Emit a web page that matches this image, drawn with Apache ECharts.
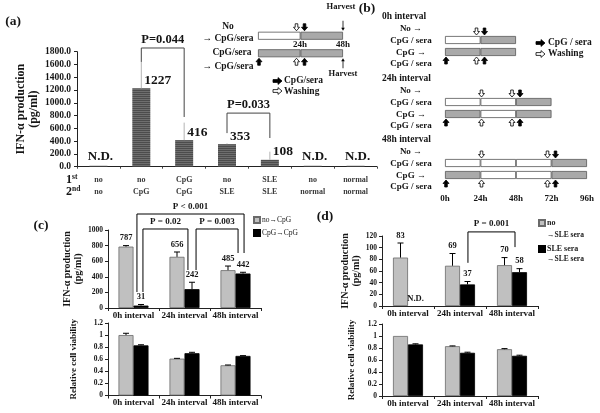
<!DOCTYPE html>
<html>
<head>
<meta charset="utf-8">
<script src="https://cdn.jsdelivr.net/npm/echarts@6/dist/echarts.min.js"></script>
<style>
  html, body { margin: 0; padding: 0; background: #fff; }
  #chart { width: 600px; height: 413px; }
</style>
</head>
<body>
<div id="chart"></div>
<script>
// ===== Datos =====
// (a) dos estímulos sucesivos
const aFirst = ['no', 'no', 'CpG', 'no', 'SLE', 'no', 'normal'];
const aSecond = ['no', 'CpG', 'CpG', 'SLE', 'SLE', 'normal', 'normal'];
const aValues = [15, 1227, 416, 353, 108, 15, 15];
const aND = [true, false, false, false, false, true, true];
const aErrTop = [null, 1640, 690, 365, 235, null, null];
// [catA, catB, top, leg A bottom, leg B bottom, text]
const aBrackets = [[1, 2, 1858, 1640, 778, 'P=0.044'], [3, 4, 839, 526, 449, 'P=0.033']];

// (c) CpG -> CpG
const intervals = ['0h interval', '24h interval', '48h interval'];
const cNoCpG = [787, 656, 485];
const cNoCpGErr = [800, 718, 538];
const cCpGCpG = [31, 242, 442];
const cCpGCpGErr = [45, 330, 458];
const cViabNo = [1.0, 0.61, 0.50];
const cViabNoErr = [1.03, 0.615, 0.505];
const cViabCpG = [0.83, 0.70, 0.655];
const cViabCpGErr = [0.84, 0.715, 0.66];
// [catA, legA (bar widths from centre), catB, legB, top, bottomA, bottomB, text]
const cBrackets = [
  [0, 0.23, 2, 0.57, 1205, 205, 705, 'P < 0.001'],
  [0, 0.63, 1, 0.23, 1013, 205, 487, 'P = 0.02'],
  [1, 0.77, 2, 0.17, 1013, 487, 705, 'P = 0.003'],
];

// (d) SLE sera -> SLE sera
const dNoSle = [83, 69, 70];
const dNoSleErr = [108, 90, 83];
const dSleSle = [null, 37, 58];   // null = N.D.
const dSleSleErr = [null, 42, 64];
const dViabNo = [1.0, 0.83, 0.78];
const dViabNoErr = [1.0, 0.835, 0.79];
const dViabSle = [0.86, 0.72, 0.67];
const dViabSleErr = [0.87, 0.73, 0.68];
const dBrackets = [[1, 0.53, 2, 0.2, 127, 74, 101, 'P = 0.001']];

// esquemas: segmentos de 24 h (w = sin estímulo, g = CpG/sera)
const segHours = 24;
const schemA = [['w', 'g'], ['g', 'g']];
const arrowsA = [[24, 'top', 'wash'], [24, 'top', 'cpg'], [48, 'top', 'harvest'],
  [0, 'bot', 'cpg'], [24, 'bot', 'wash'], [24, 'bot', 'cpg'], [48, 'bot', 'harvest']];
const bTitles = ['0h interval', '24h interval', '48h interval'];
const bRowText = ['No →', 'CpG / sera', 'CpG →', 'CpG / sera'];
const bRows = [
  [['w', 'g'], ['g', 'g']],
  [['w', 'w', 'g'], ['g', 'w', 'g']],
  [['w', 'w', 'w', 'g'], ['g', 'w', 'w', 'g']],
];
const bArrows = [
  [[24, 'top', 'wash'], [24, 'top', 'cpg'], [0, 'bot', 'cpg'], [24, 'bot', 'wash'], [24, 'bot', 'cpg']],
  [[24, 'top', 'wash'], [48, 'top', 'wash'], [48, 'top', 'cpg'], [0, 'bot', 'cpg'], [24, 'bot', 'wash'], [48, 'bot', 'wash'], [48, 'bot', 'cpg']],
  [[24, 'top', 'wash'], [72, 'top', 'wash'], [72, 'top', 'cpg'], [0, 'bot', 'cpg'], [24, 'bot', 'wash'], [72, 'bot', 'wash'], [72, 'bot', 'cpg']],
];

// ===== Estilo =====
const FONT = '"Liberation Serif", "DejaVu Serif", serif';
const INK = '#151515';
const GREY = '#c0c0c0';
const SCHEM_GREY = '#a9a9a9';
const lab = (size, extra) => Object.assign({ fontFamily: FONT, fontWeight: 'bold', fontSize: size, color: INK }, extra || {});
const axisLine = { show: true, lineStyle: { color: '#222', width: 1 } };
const tick = { show: true, length: 3, lineStyle: { color: '#222' } };

const grids = [], xAxes = [], yAxes = [], series = [], graphics = [];

function txt(x, y, text, size, align, extra) {
  graphics.push({ type: 'text', x, y, silent: true,
    style: Object.assign({ text, fontFamily: FONT, fontWeight: 'bold', fontSize: size, fill: INK,
      align: align || 'center', verticalAlign: 'middle' }, extra || {}) });
}
function rightArrow(x, y, filled) {
  const L = 9, hl = 4, sh = 1.4, hh = 3.4;
  graphics.push({ type: 'polygon', silent: true,
    shape: { points: [[x, y - sh], [x + L - hl, y - sh], [x + L - hl, y - hh], [x + L, y], [x + L - hl, y + hh], [x + L - hl, y + sh], [x, y + sh]] },
    style: { fill: filled ? '#000' : '#fff', stroke: '#000', lineWidth: 0.8 } });
}

// rayado horizontal fino de las barras de (a)
const stripe = document.createElement('canvas');
stripe.width = 4; stripe.height = 2;
const sg = stripe.getContext('2d');
sg.fillStyle = '#4c4c4c'; sg.fillRect(0, 0, 4, 2);
sg.fillStyle = '#6e6e6e'; sg.fillRect(0, 1, 4, 1);

// ===== (a) barras =====
const gA = grids.push({ left: 70, top: 51.7, width: 307, height: 115 }) - 1;
const xA = xAxes.push({ type: 'category', gridIndex: gA, data: aFirst.map((f, i) => f + '/' + aSecond[i]),
  axisLine, axisTick: { show: true, length: 2, lineStyle: { color: '#444' } },
  axisLabel: lab(8, { color: '#3a3a3a', lineHeight: 12, margin: 7, interval: 0, formatter: v => v.replace('/', '\n') }) }) - 1;
const yA = yAxes.push({ type: 'value', gridIndex: gA, min: 0, max: 1800, interval: 200,
  axisLine, axisTick: tick, splitLine: { show: false },
  axisLabel: lab(9.5, { margin: 6, formatter: v => v.toFixed(1) }),
  name: 'IFN-α production\n(pg/ml)', nameLocation: 'middle', nameRotate: 90, nameGap: 37,
  nameTextStyle: lab(12, { lineHeight: 13 }) }) - 1;
series.push({ type: 'bar', xAxisIndex: xA, yAxisIndex: yA, data: aValues, barWidth: 18, silent: true,
  itemStyle: { color: { image: stripe, repeat: 'repeat' } } });
series.push({ type: 'custom', xAxisIndex: xA, yAxisIndex: yA, z: 5, silent: true,
  data: aValues.map((v, i) => [i, v]),
  renderItem(params, api) {
    const i = params.dataIndex, p = api.coord([i, aValues[i]]);
    const kids = [];
    if (aErrTop[i] != null) {
      const q = api.coord([i, aErrTop[i]]);
      kids.push({ type: 'line', shape: { x1: p[0], y1: p[1], x2: q[0], y2: q[1] }, style: { stroke: '#b3b3b3', lineWidth: 1 } });
    }
    if (aND[i]) kids.push({ type: 'text', x: p[0] + 2, y: p[1] - 9,
      style: { text: 'N.D.', fontFamily: FONT, fontWeight: 'bold', fontSize: 13, fill: INK, align: 'center', verticalAlign: 'middle' } });
    else kids.push({ type: 'text', x: p[0] + 3, y: p[1] - 8,
      style: { text: String(aValues[i]), fontFamily: FONT, fontWeight: 'bold', fontSize: 13.5, fill: INK, align: 'left', verticalAlign: 'middle' } });
    return { type: 'group', children: kids };
  } });
series.push(bracketSeries(xA, yA, aBrackets.map(b => [b[0], 0, b[1], 0, b[2], b[3], b[4], b[5]]), 18, '#444', 12.5, 8));

function bracketSeries(xi, yi, list, barW, color, size, lift) {
  return { type: 'custom', xAxisIndex: xi, yAxisIndex: yi, z: 6, silent: true,
    data: list.map(b => [b[0], b[4]]),
    renderItem(params, api) {
      const [ca, ka, cb, kb, top, botA, botB, text] = list[params.dataIndex];
      const pa = api.coord([ca, top]), pb = api.coord([cb, top]);
      const xa = pa[0] + ka * barW, xb = pb[0] + kb * barW, yt = pa[1];
      const ya = api.coord([ca, botA])[1], yb = api.coord([cb, botB])[1];
      return { type: 'group', children: [
        { type: 'polyline', shape: { points: [[xa, ya], [xa, yt], [xb, yt], [xb, yb]] }, style: { stroke: color, lineWidth: 1, fill: null } },
        { type: 'text', x: (xa + xb) / 2, y: yt - lift,
          style: { text, fontFamily: FONT, fontWeight: 'bold', fontSize: size, fill: INK, align: 'center', verticalAlign: 'middle' } },
      ] };
    } };
}

// ===== (c) y (d): barras agrupadas con error =====
function errSeries(xi, yi, vals, tops, side, barW, withLabel) {
  return { type: 'custom', xAxisIndex: xi, yAxisIndex: yi, z: 5, silent: true,
    data: vals.map((v, i) => [i, v == null ? 0 : v]),
    renderItem(params, api) {
      const i = params.dataIndex, v = vals[i], t = tops[i];
      const base = api.coord([i, v == null ? 0 : v]);
      const x = base[0] + side * barW / 2;
      const kids = [];
      let topY = base[1];
      if (t != null && v != null && t > v) {
        const q = api.coord([i, t]);
        kids.push({ type: 'line', shape: { x1: x, y1: base[1], x2: x, y2: q[1] }, style: { stroke: '#000', lineWidth: 1 } });
        kids.push({ type: 'line', shape: { x1: x - 3, y1: q[1], x2: x + 3, y2: q[1] }, style: { stroke: '#000', lineWidth: 1 } });
        topY = q[1];
      }
      if (withLabel) kids.push({ type: 'text', x, y: topY - 3,
        style: { text: v == null ? 'N.D.' : String(v), fontFamily: FONT, fontWeight: 'bold', fontSize: 8.5, fill: INK, align: 'center', verticalAlign: 'bottom' } });
      return { type: 'group', children: kids };
    } };
}

function groupPanel(rect, yCfg, names, greyVals, greyErr, blackVals, blackErr, withLabel) {
  const gi = grids.push(rect) - 1;
  const xi = xAxes.push({ type: 'category', gridIndex: gi, data: intervals,
    axisLine, axisTick: { show: true, length: 3, lineStyle: { color: '#222' } },
    axisLabel: lab(9, { margin: 3, interval: 0 }) }) - 1;
  const yi = yAxes.push(Object.assign({ type: 'value', gridIndex: gi, axisLine, axisTick: tick,
    splitLine: { show: false }, nameLocation: 'middle', nameRotate: 90 }, yCfg)) - 1;
  const bw = 15;
  series.push({ type: 'bar', name: names[0], xAxisIndex: xi, yAxisIndex: yi, data: greyVals, barWidth: bw, barGap: '0%', silent: true,
    itemStyle: { color: GREY, borderColor: '#6a6a6a', borderWidth: 0.8 } });
  series.push({ type: 'bar', name: names[1], xAxisIndex: xi, yAxisIndex: yi, data: blackVals.map(v => v == null ? '-' : v), barWidth: bw, barGap: '0%', silent: true,
    itemStyle: { color: '#000', borderColor: '#000', borderWidth: 0.8 } });
  series.push(errSeries(xi, yi, greyVals, greyErr, -1, bw, withLabel));
  series.push(errSeries(xi, yi, blackVals, blackErr, 1, bw, withLabel));
  return { xi, yi, bw };
}

const cNames = ['no→CpG', 'CpG→CpG'];
const dNames = ['no', 'SLE sera'];
const tickLab = lab(7.5, { margin: 5, formatter: v => String(v) });
const ifnName = (gap) => ({ name: 'IFN-α production\n(pg/ml)', nameGap: gap, nameTextStyle: lab(10, { lineHeight: 11 }) });
const viabName = (gap) => ({ name: 'Relative cell viability', nameGap: gap, nameTextStyle: lab(9) });

const cTop = groupPanel({ left: 108, top: 230, width: 153, height: 78 },
  Object.assign({ min: 0, max: 1000, interval: 200, axisLabel: tickLab }, ifnName(20)),
  cNames, cNoCpG, cNoCpGErr, cCpGCpG, cCpGCpGErr, true);
series.push(bracketSeries(cTop.xi, cTop.yi, cBrackets, cTop.bw, '#000', 9, 7));
groupPanel({ left: 108, top: 323, width: 153, height: 72.5 },
  Object.assign({ min: 0, max: 1.2, interval: 0.2, axisLabel: tickLab }, viabName(30)),
  cNames, cViabNo, cViabNoErr, cViabCpG, cViabCpGErr, false);

const dTop = groupPanel({ left: 382, top: 236, width: 156, height: 70 },
  Object.assign({ min: 0, max: 120, interval: 20, axisLabel: tickLab }, ifnName(19)),
  dNames, dNoSle, dNoSleErr, dSleSle, dSleSleErr, true);
series.push(bracketSeries(dTop.xi, dTop.yi, dBrackets, dTop.bw, '#000', 9, 8));
groupPanel({ left: 382, top: 324, width: 156, height: 72 },
  Object.assign({ min: 0, max: 1.2, interval: 0.2, axisLabel: tickLab }, viabName(26)),
  dNames, dViabNo, dViabNoErr, dViabSle, dViabSleErr, false);

// ===== esquemas de tiempo =====
function arrowSeries(xi, yi, arrows) {
  return { type: 'custom', xAxisIndex: xi, yAxisIndex: yi, z: 5, silent: true,
    data: arrows.map(a => [a[0], a[1] === 'top' ? 0 : 1]),
    renderItem(params, api) {
      const a = arrows[params.dataIndex];
      const [h, pos, kind] = a;
      const c = api.coord([h, pos === 'top' ? 0 : 1]);
      const d = pos === 'top' ? 1 : -1;
      const tip = c[1] - d * 5;
      if (kind === 'harvest') {
        const x = c[0];
        return { type: 'group', children: [
          { type: 'line', shape: { x1: x, y1: tip - d * 10, x2: x, y2: tip - d * 2 }, style: { stroke: '#000', lineWidth: 0.8 } },
          { type: 'polygon', shape: { points: [[x, tip], [x - 1.8, tip - d * 3], [x + 1.8, tip - d * 3]] }, style: { fill: '#000' } },
        ] };
      }
      const paired = arrows.some(b => b !== a && b[0] === h && b[1] === pos && b[2] !== 'harvest');
      const x = c[0] + (paired ? (kind === 'wash' ? -4 : 4) : 1);
      const hh = 3.5, hw = 3, sw = 1.3, L = 7;
      return { type: 'polygon',
        shape: { points: [[x, tip], [x - hw, tip - d * hh], [x - sw, tip - d * hh], [x - sw, tip - d * L],
          [x + sw, tip - d * L], [x + sw, tip - d * hh], [x + hw, tip - d * hh]] },
        style: { fill: kind === 'cpg' ? '#000' : '#fff', stroke: '#000', lineWidth: 0.8 } };
    } };
}

function schematic(rect, hours, rows, arrows, showAxis) {
  const gi = grids.push(rect) - 1;
  const xi = xAxes.push({ type: 'value', gridIndex: gi, min: 0, max: hours, interval: 24, show: showAxis,
    axisLine: { show: false }, axisTick: { show: false }, splitLine: { show: false },
    axisLabel: lab(9, { margin: 13, formatter: '{value}h' }) }) - 1;
  const yi = yAxes.push({ type: 'category', gridIndex: gi, data: rows.map((r, k) => 'r' + k), inverse: true, show: false }) - 1;
  const nSeg = Math.max(...rows.map(r => r.length));
  for (let s = 0; s < nSeg; s++) {
    series.push({ type: 'bar', xAxisIndex: xi, yAxisIndex: yi, stack: 'st' + gi, barWidth: 8, silent: true,
      data: rows.map(r => r[s] ? { value: segHours, itemStyle: { color: r[s] === 'w' ? '#fff' : SCHEM_GREY } } : '-'),
      itemStyle: { borderColor: '#555', borderWidth: 0.8 } });
  }
  series.push(arrowSeries(xi, yi, arrows));
}

// esquema de (a)
schematic({ left: 258, top: 27, width: 85, height: 35 }, 48, schemA, arrowsA, false);
txt(228, 27, 'No', 9.5);
txt(228, 39, '→ CpG/sera', 9.5);
txt(232, 53, 'CpG/sera', 9.5);
txt(228, 67, '→ CpG/sera', 9.5);
txt(300, 45, '24h', 9);
txt(343, 45, '48h', 9);
txt(341, 7, 'Harvest', 8.5);
txt(343, 74, 'Harvest', 8.5);
rightArrow(273, 81, true);
rightArrow(273, 91, false);
txt(284, 81, 'CpG/sera', 9.5, 'left');
txt(284, 92, 'Washing', 9.5, 'left');

// (b)
const bTop = [17, 79, 140];
bTitles.forEach((t, k) => {
  const T = bTop[k];
  schematic({ left: 445, top: T + 17, width: 142, height: 24 }, 96, bRows[k], bArrows[k], k === 2);
  txt(382, T, t, 9.5, 'left');
  [12, 24, 35.5, 47].forEach((dy, j) => txt(411, T + dy, bRowText[j], 9));
});
rightArrow(536, 43, true);
rightArrow(536, 54, false);
txt(548, 43, 'CpG / sera', 9.5, 'left');
txt(548, 54, 'Washing', 9.5, 'left');

// rótulos de paneles y filas
txt(13, 22, '(a)', 13.5);
txt(367, 9, '(b)', 13.5);
txt(41, 226, '(c)', 13.5);
txt(325, 217, '(d)', 13.5);
txt(66, 180, '1', 12, 'left');
txt(72, 177, 'st', 7.5, 'left');
txt(66, 192, '2', 12, 'left');
txt(72, 189, 'nd', 7.5, 'left');
txt(547, 235, '→SLE sera', 7.5, 'left');
txt(547, 259, '→SLE sera', 7.5, 'left');

const chart = echarts.init(document.getElementById('chart'), null, { renderer: 'canvas' });
chart.setOption({
  animation: false,
  backgroundColor: '#fff',
  textStyle: { fontFamily: FONT },
  grid: grids, xAxis: xAxes, yAxis: yAxes, series,
  legend: [
    { data: cNames, orient: 'vertical', left: 253, top: 216, padding: 0, itemWidth: 6, itemHeight: 6, itemGap: 5,
      icon: 'rect', selectedMode: false, textStyle: { fontFamily: FONT, fontSize: 7.5, color: '#222', padding: [0, 0, 0, -3] } },
    { data: dNames, orient: 'vertical', left: 538, top: 219, padding: 0, itemWidth: 6, itemHeight: 6, itemGap: 18,
      icon: 'rect', selectedMode: false, textStyle: { fontFamily: FONT, fontSize: 8, fontWeight: 'bold', color: '#222', padding: [0, 0, 0, -3] } },
  ],
  graphic: graphics,
});
</script>
</body>
</html>
